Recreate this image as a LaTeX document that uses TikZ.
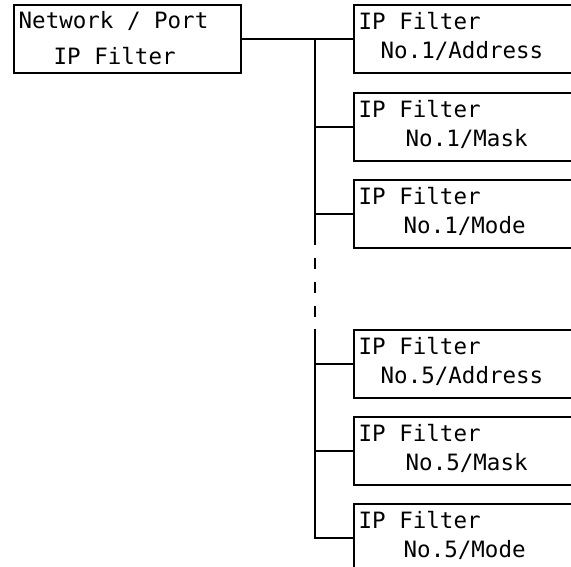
\documentclass[tikz,border=0pt]{standalone}
\usepackage{fontspec}
\setmonofont{DejaVu Sans Mono}
\begin{document}
\begin{tikzpicture}[x=1pt,y=-1pt,
  box/.style={draw,line width=2.2pt,rectangle,anchor=north west,minimum width=227pt,minimum height=68pt,inner sep=0pt},
  txt/.style={anchor=base west,inner sep=0pt,font=\ttfamily\fontsize{22.5pt}{29pt}\selectfont},
  conn/.style={line width=2.2pt}]
\clip (0,0) rectangle (571,566);
\fill[white] (0,0) rectangle (571,566);
% left box
\node[box] (L) at (13,4) {};
\node[txt] (La) at (18.5,28) {Network / Port};
\node[txt] (Lb) at (53.5,64) {IP Filter};
% right boxes
\node[box] (b1) at (353,4) {};
\node[box] (b2) at (353,92) {};
\node[box] (b3) at (353,179) {};
\node[box] (b4) at (353,329) {};
\node[box] (b5) at (353,416) {};
\node[box] (b6) at (353,503) {};
\node[txt] (t1a) at (358.5,29) {IP Filter};
\node[txt] (t1b) at (380.5,58) {No.1/Address};
\node[txt] (t2a) at (358.5,117) {IP Filter};
\node[txt] (t2b) at (405.5,146) {No.1/Mask};
\node[txt] (t3a) at (358.5,204) {IP Filter};
\node[txt] (t3b) at (403.5,233) {No.1/Mode};
\node[txt] (t4a) at (358.5,354) {IP Filter};
\node[txt] (t4b) at (380.5,383) {No.5/Address};
\node[txt] (t5a) at (358.5,441) {IP Filter};
\node[txt] (t5b) at (405.5,470) {No.5/Mask};
\node[txt] (t6a) at (358.5,528) {IP Filter};
\node[txt] (t6b) at (403.5,557) {No.5/Mode};
% trunk coordinates
\coordinate (j1) at (315,38);
\coordinate (jm1) at (315,245);
\coordinate (jd1) at (315,258);
\coordinate (jd2) at (315,317);
\coordinate (jm2) at (315,329);
\coordinate (jend) at (315,537);
% connectors
\draw[conn] (L.east) -- (b1.west);
\draw[conn] (j1) -- (jm1);
\draw[conn,dash pattern=on 11pt off 13pt] (jd1) -- (jd2);
\draw[conn] (jm2) -- (jend |- b6.west) -- (b6.west);
\draw[conn] (j1 |- b2.west) -- (b2.west);
\draw[conn] (j1 |- b3.west) -- (b3.west);
\draw[conn] (j1 |- b4.west) -- (b4.west);
\draw[conn] (j1 |- b5.west) -- (b5.west);
\end{tikzpicture}
\end{document}
